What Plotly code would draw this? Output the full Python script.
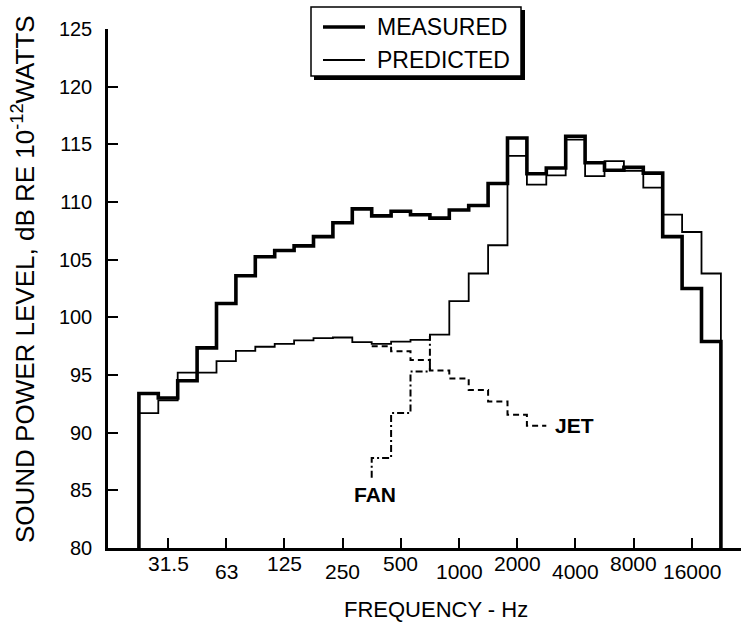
import numpy as np
import plotly.graph_objects as go

# 1/3-octave band numbers relative to 1 kHz (25 Hz ... 20 kHz)
BAND_NUMBERS = list(range(-16, 14))
BAND_LABELS = ["25", "31.5", "40", "50", "63", "80", "100", "125", "160", "200",
               "250", "315", "400", "500", "630", "800", "1000", "1250", "1600", "2000",
               "2500", "3150", "4000", "5000", "6300", "8000", "10000", "12500", "16000", "20000"]

MEASURED = [93.4, 93.0, 94.5, 97.35, 101.2, 103.6, 105.25, 105.8, 106.2, 107.0,
            108.2, 109.4, 108.8, 109.2, 108.9, 108.6, 109.3, 109.7, 111.6, 115.55,
            112.45, 112.95, 115.7, 113.4, 112.75, 113.0, 112.5, 107.0, 102.5, 97.9]
PREDICTED = [91.7, 92.8, 95.2, 95.2, 96.2, 97.1, 97.45, 97.7, 98.0, 98.2,
             98.25, 97.85, 97.7, 97.9, 98.05, 98.5, 101.4, 103.8, 106.25, 114.0,
             111.5, 112.3, 115.4, 112.25, 113.55, 112.7, 111.25, 108.9, 107.4, 103.8]

JET_BANDS = ["400", "500", "630", "800", "1000", "1250", "1600", "2000", "2500"]
JET = [97.5, 97.05, 96.3, 95.4, 94.7, 93.7, 92.7, 91.55, 90.6]

FAN_BANDS = ["400", "500", "630", "800"]
FAN_START = 86.1
FAN = [87.8, 91.7, 95.3, 98.4]

TICK_LABELS = ["31.5", "63", "125", "250", "500", "1000", "2000", "4000", "8000", "16000"]
Y_TICKS = [80, 85, 90, 95, 100, 105, 110, 115, 120, 125]
LEGEND_NAMES = ["MEASURED", "PREDICTED"]

FONT = "Liberation Sans, Arial, sans-serif"

W, H = 741, 624
ML, MR, MT, MB = 108, 0, 29, 76
PW, PH = W - ML - MR, H - MT - MB


def band_no(label):
    return BAND_NUMBERS[BAND_LABELS.index(label)]


def lower_edge(n):
    return 1000.0 * 10 ** ((n - 0.5) / 10.0)


def upper_edge(n):
    return 1000.0 * 10 ** ((n + 0.5) / 10.0)


def center(n):
    return 1000.0 * 10 ** (n / 10.0)


def step_from_axis(values):
    xs = [lower_edge(BAND_NUMBERS[0])] + [lower_edge(n) for n in BAND_NUMBERS] + [upper_edge(BAND_NUMBERS[-1])]
    ys = [80] + list(values) + [80]
    return xs, ys


def pxx(px):  # pixel column -> paper x
    return (px - ML) / PW


def pxy(py):  # pixel row -> paper y
    return (H - MB - py) / PH


fig = go.Figure()

mx, my = step_from_axis(MEASURED)
px_, py_ = step_from_axis(PREDICTED)

fig.add_trace(go.Scatter(x=px_, y=py_, mode="lines", line_shape="hv",
                         line=dict(color="black", width=1.8), name="PREDICTED", showlegend=False))
fig.add_trace(go.Scatter(x=mx, y=my, mode="lines", line_shape="hv",
                         line=dict(color="black", width=3.6), name="MEASURED", showlegend=False))

jn = [band_no(b) for b in JET_BANDS]
jx = [lower_edge(n) for n in jn] + [upper_edge(jn[-1])]
jy = JET + [JET[-1]]
fig.add_trace(go.Scatter(x=jx, y=jy, mode="lines", line_shape="hv", showlegend=False, name="JET",
                         line=dict(color="black", width=2, dash="6px,4px")))

fn = [band_no(b) for b in FAN_BANDS]
fx = [lower_edge(n) for n in fn] + [lower_edge(fn[-1])]
fy = [FAN_START] + FAN
fig.add_trace(go.Scatter(x=fx, y=fy, mode="lines", line_shape="vh", showlegend=False, name="FAN",
                         line=dict(color="black", width=2, dash="7px,3px,2px,3px")))

annotations = []
for i, lab in enumerate(TICK_LABELS):
    annotations.append(dict(x=np.log10(center(band_no(lab))), y=0, xref="x", yref="paper",
                            text=lab, showarrow=False, xanchor="center", yanchor="middle",
                            yshift=-15 if i % 2 == 0 else -23,
                            font=dict(family=FONT, size=21, color="black")))

annotations.append(dict(x=np.log10(jx[-1]), y=jy[-1], xref="x", yref="y", text="<b>JET</b>",
                        showarrow=False, xanchor="left", yanchor="middle", xshift=7,
                        font=dict(family=FONT, size=21, color="black")))
annotations.append(dict(x=np.log10(fx[0]), y=FAN_START, xref="x", yref="y", text="<b>FAN</b>",
                        showarrow=False, xanchor="center", yanchor="top", xshift=3, yshift=-3,
                        font=dict(family=FONT, size=21, color="black")))
annotations.append(dict(x=pxx(436), y=pxy(609), xref="paper", yref="paper", text="FREQUENCY - Hz",
                        showarrow=False, xanchor="center", yanchor="middle",
                        font=dict(family=FONT, size=22, color="black")))
annotations.append(dict(x=pxx(23), y=pxy(279), xref="paper", yref="paper",
                        text="SOUND POWER LEVEL, dB RE 10<sup>-12</sup>WATTS",
                        showarrow=False, xanchor="center", yanchor="middle",
                        textangle=-90, font=dict(family=FONT, size=26, color="black")))

# hand-drawn legend box (with drop shadow) as in the original figure
shapes = [
    dict(type="rect", xref="paper", yref="paper", x0=pxx(314), x1=pxx(525), y0=pxy(80), y1=pxy(10),
         fillcolor="black", line=dict(width=0), layer="above"),
    dict(type="rect", xref="paper", yref="paper", x0=pxx(311), x1=pxx(521), y0=pxy(76), y1=pxy(7),
         fillcolor="white", line=dict(color="black", width=1.5), layer="above"),
]
legend_rows = [(LEGEND_NAMES[0], 27, 3.6), (LEGEND_NAMES[1], 60, 1.8)]
for name, row_y, lw in legend_rows:
    shapes.append(dict(type="line", xref="paper", yref="paper", x0=pxx(323), x1=pxx(365),
                       y0=pxy(row_y), y1=pxy(row_y), line=dict(color="black", width=lw), layer="above"))
    annotations.append(dict(x=pxx(375), y=pxy(row_y), xref="paper", yref="paper", text=name,
                            showarrow=False, xanchor="left", yanchor="middle",
                            font=dict(family=FONT, size=23, color="black")))

fig.update_layout(
    width=W, height=H,
    margin=dict(l=ML, r=MR, t=MT, b=MB, autoexpand=False),
    paper_bgcolor="white", plot_bgcolor="white",
    showlegend=False,
    annotations=annotations,
    shapes=shapes,
)

fig.update_xaxes(type="log", range=[1.1907, 4.4536], showgrid=False, zeroline=False,
                 showline=True, linecolor="black", linewidth=2.5,
                 tickvals=[center(band_no(t)) for t in TICK_LABELS], showticklabels=False,
                 ticks="inside", ticklen=10, tickwidth=2, tickcolor="black")
fig.update_yaxes(range=[80, 125], showgrid=False, zeroline=False,
                 showline=True, linecolor="black", linewidth=2.5,
                 tickvals=Y_TICKS, ticks="inside", ticklen=10, tickwidth=2, tickcolor="black",
                 ticklabelstandoff=9,
                 tickfont=dict(family=FONT, size=20, color="black"))

fig.write_html("out.html", config={"displayModeBar": False},
               post_script="document.body.style.margin='0px';document.body.style.overflow='hidden';")
